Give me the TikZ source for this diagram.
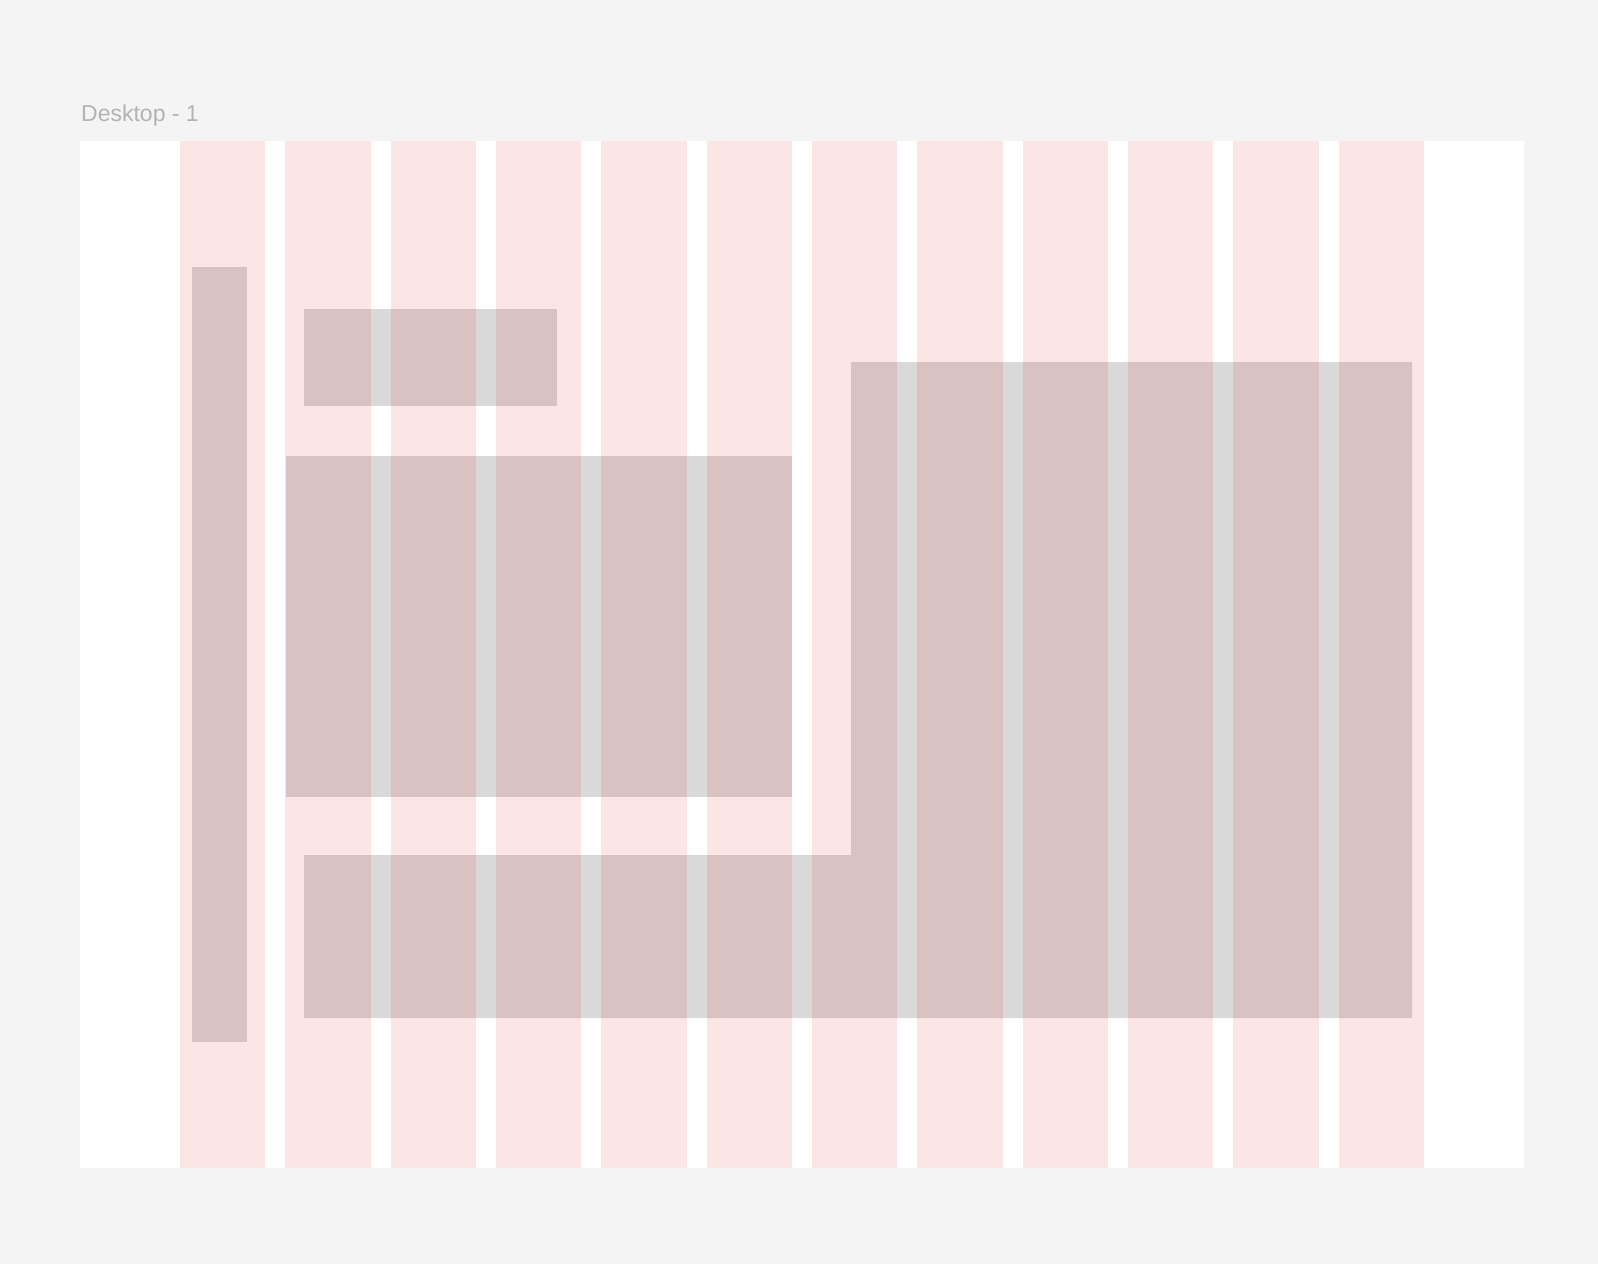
\documentclass[tikz,border=0pt]{standalone}
\usepackage{fontspec}
\setmainfont{Liberation Sans}
\definecolor{canvasbg}{HTML}{F4F4F4}
\definecolor{blockgray}{HTML}{D9D9D9}
\definecolor{gridred}{RGB}{232,0,0}
\definecolor{labelgray}{HTML}{B3B3B3}
\tikzset{
    colstrip/.style={fill=gridred, fill opacity=0.1},
    block/.style={fill=blockgray},
}
\begin{document}
\begin{tikzpicture}[x=1pt, y=-1pt]
    \fill[canvasbg] (0,0) rectangle (1598,1264);
    \useasboundingbox (0,0) rectangle (1598,1264);
    % 画板
    \node[anchor=base west, inner sep=0pt, text=labelgray,
          font=\fontsize{23}{28}\selectfont] (title) at (81,121.5) {Desktop - 1};
    \fill[white] (80,141) rectangle (1524,1168);
    % 内容块
    \fill[block] (192,267) rectangle (247,1042);
    \fill[block] (304,309) rectangle (557,406);
    \fill[block] (286,456) rectangle (792,797);
    \fill[block] (851,362) -- (1412,362) -- (1412,1018) -- (304,1018)
        -- (304,855) -- (851,855) -- cycle;
    % 12 栏网格
    \foreach \i in {0,...,11}
        \fill[colstrip] ({180+\i*105.333},141) rectangle ({265.333+\i*105.333},1168);
\end{tikzpicture}
\end{document}
